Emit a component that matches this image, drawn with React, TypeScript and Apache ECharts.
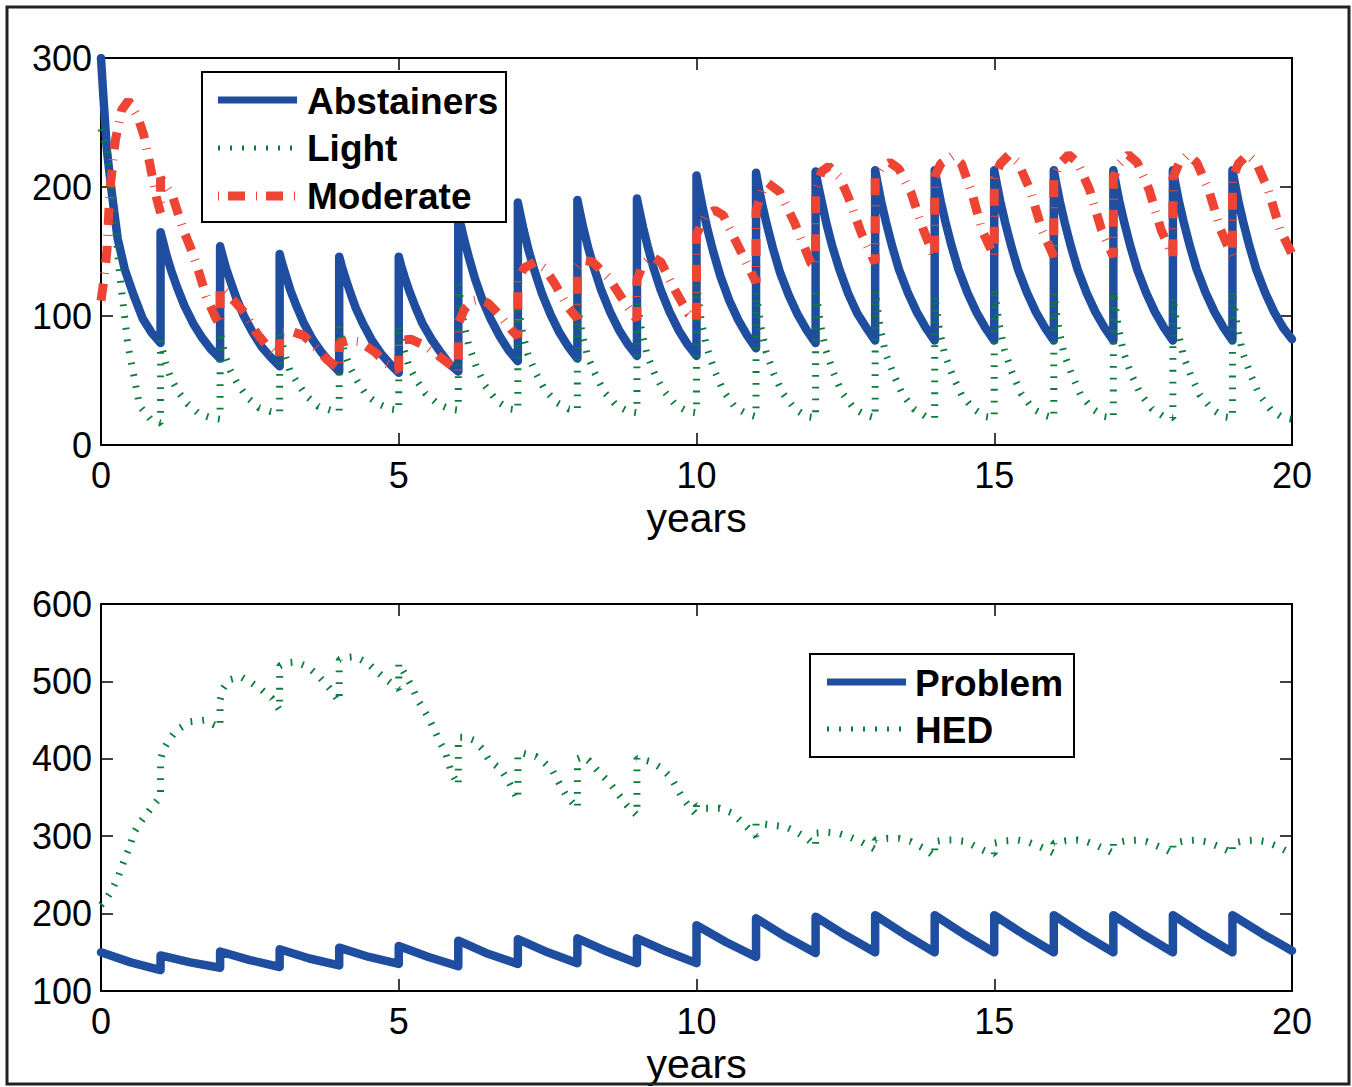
import React, { useEffect, useRef } from "react";
import * as echarts from "echarts";

// ---------- DATA ----------
// top panel: [years, persons]
const abstainers: number[][] = [
  [0, 300], [0.04, 270], [0.1, 228], [0.18, 196], [0.28, 160], [0.4, 136], [0.55, 116], [0.7, 98], [0.85, 87], [1, 79],
  [1, 165], [1.04, 158], [1.1, 147], [1.18, 135], [1.28, 122], [1.4, 108], [1.55, 94], [1.7, 83], [1.85, 74], [2, 67],
  [2, 154], [2.04, 147], [2.1, 137], [2.18, 126], [2.28, 113], [2.4, 100], [2.55, 87], [2.7, 76], [2.85, 68], [3, 61],
  [3, 148], [3.04, 141], [3.1, 132], [3.18, 120], [3.28, 108], [3.4, 95], [3.55, 82], [3.7, 72], [3.85, 64], [4, 57],
  [4, 146], [4.04, 139], [4.1, 130], [4.18, 119], [4.28, 106], [4.4, 94], [4.55, 81], [4.7, 71], [4.85, 63], [5, 56],
  [5, 146], [5.04, 139], [5.1, 130], [5.18, 119], [5.28, 107], [5.4, 94], [5.55, 82], [5.7, 72], [5.85, 63], [6, 57],
  [6, 180], [6.04, 171], [6.1, 159], [6.18, 145], [6.28, 129], [6.4, 113], [6.55, 97], [6.7, 84], [6.85, 73], [7, 65],
  [7, 188], [7.04, 179], [7.1, 166], [7.18, 151], [7.28, 135], [7.4, 118], [7.55, 101], [7.7, 87], [7.85, 76], [8, 67],
  [8, 190], [8.04, 181], [8.1, 168], [8.18, 153], [8.28, 137], [8.4, 120], [8.55, 103], [8.7, 89], [8.85, 78], [9, 69],
  [9, 191], [9.04, 182], [9.1, 169], [9.18, 154], [9.28, 137], [9.4, 120], [9.55, 103], [9.7, 89], [9.85, 78], [10, 69],
  [10, 209], [10.04, 199], [10.1, 185], [10.18, 168], [10.28, 150], [10.4, 131], [10.55, 112], [10.7, 97], [10.85, 85], [11, 75],
  [11, 211], [11.04, 201], [11.1, 187], [11.18, 171], [11.28, 153], [11.4, 134], [11.55, 116], [11.7, 101], [11.85, 89], [12, 79],
  [12, 212], [12.04, 202], [12.1, 189], [12.18, 172], [12.28, 154], [12.4, 136], [12.55, 117], [12.7, 102], [12.85, 91], [13, 81],
  [13, 213], [13.04, 203], [13.1, 189], [13.18, 173], [13.28, 155], [13.4, 136], [13.55, 118], [13.7, 103], [13.85, 91], [14, 81],
  [14, 213], [14.04, 203], [14.1, 189], [14.18, 173], [14.28, 155], [14.4, 136], [14.55, 118], [14.7, 103], [14.85, 91], [15, 81],
  [15, 213], [15.04, 203], [15.1, 189], [15.18, 173], [15.28, 155], [15.4, 136], [15.55, 118], [15.7, 103], [15.85, 91], [16, 81],
  [16, 213], [16.04, 203], [16.1, 189], [16.18, 173], [16.28, 155], [16.4, 136], [16.55, 118], [16.7, 103], [16.85, 91], [17, 81],
  [17, 213], [17.04, 203], [17.1, 189], [17.18, 173], [17.28, 155], [17.4, 136], [17.55, 118], [17.7, 103], [17.85, 91], [18, 81],
  [18, 213], [18.04, 203], [18.1, 189], [18.18, 173], [18.28, 155], [18.4, 136], [18.55, 118], [18.7, 103], [18.85, 91], [19, 81],
  [19, 213], [19.04, 203], [19.1, 189], [19.18, 173], [19.28, 155], [19.4, 136], [19.55, 118], [19.7, 103], [19.85, 91], [20, 82],
];

const light: number[][] = [
  [0, 245], [0.08, 232], [0.17, 205], [0.3, 138], [0.45, 78], [0.65, 30], [0.85, 19], [1, 17],
  [1, 81], [1.08, 64], [1.17, 52], [1.3, 41], [1.45, 32], [1.65, 24], [1.85, 21], [2, 20],
  [2, 88], [2.08, 70], [2.17, 58], [2.3, 47], [2.45, 37], [2.65, 29], [2.85, 26], [3, 25],
  [3, 88], [3.08, 71], [3.17, 58], [3.3, 48], [3.45, 38], [3.65, 30], [3.85, 27], [4, 26],
  [4, 92], [4.08, 74], [4.17, 61], [4.3, 50], [4.45, 39], [4.65, 32], [4.85, 28], [5, 27],
  [5, 93], [5.08, 75], [5.17, 61], [5.3, 50], [5.45, 40], [5.65, 32], [5.85, 28], [6, 27],
  [6, 125], [6.08, 98], [6.17, 78], [6.3, 61], [6.45, 46], [6.65, 34], [6.85, 28], [7, 27],
  [7, 110], [7.08, 87], [7.17, 70], [7.3, 56], [7.45, 43], [7.65, 33], [7.85, 28], [8, 27],
  [8, 110], [8.08, 86], [8.17, 69], [8.3, 55], [8.45, 41], [8.65, 31], [8.85, 26], [9, 25],
  [9, 112], [9.08, 88], [9.17, 70], [9.3, 55], [9.45, 42], [9.65, 31], [9.85, 26], [10, 25],
  [10, 125], [10.08, 96], [10.17, 76], [10.3, 58], [10.45, 42], [10.65, 29], [10.85, 24], [11, 22],
  [11, 119], [11.08, 92], [11.17, 72], [11.3, 55], [11.45, 40], [11.65, 28], [11.85, 22], [12, 21],
  [12, 122], [12.08, 94], [12.17, 74], [12.3, 56], [12.45, 40], [12.65, 28], [12.85, 23], [13, 21],
  [13, 120], [13.08, 92], [13.17, 72], [13.3, 56], [13.45, 40], [13.65, 28], [13.85, 22], [14, 21],
  [14, 116], [14.08, 89], [14.17, 70], [14.3, 54], [14.45, 39], [14.65, 28], [14.85, 22], [15, 21],
  [15, 122], [15.08, 94], [15.17, 74], [15.3, 56], [15.45, 40], [15.65, 28], [15.85, 23], [16, 21],
  [16, 118], [16.08, 91], [16.17, 71], [16.3, 55], [16.45, 39], [16.65, 28], [16.85, 22], [17, 21],
  [17, 119], [17.08, 92], [17.17, 72], [17.3, 55], [17.45, 40], [17.65, 28], [17.85, 22], [18, 21],
  [18, 115], [18.08, 89], [18.17, 70], [18.3, 54], [18.45, 39], [18.65, 28], [18.85, 22], [19, 21],
  [19, 120], [19.08, 92], [19.17, 72], [19.3, 55], [19.45, 39], [19.65, 27], [19.85, 21], [20, 20],
];

const moderate: number[][] = [
  [0, 112], [0.05, 128], [0.1, 151], [0.15, 198], [0.24, 236], [0.35, 260], [0.46, 267], [0.62, 254], [0.72, 240], [0.82, 218], [0.93, 192], [1, 180],
  [1, 207], [1.2, 193], [1.38, 167], [1.52, 151], [1.63, 136], [1.77, 115], [1.92, 99], [2, 93],
  [2, 122], [2.1, 118], [2.25, 111], [2.42, 102], [2.61, 87], [2.8, 76], [3, 68],
  [3, 87], [3.2, 88], [3.4, 85], [3.6, 76], [3.8, 66], [4, 59],
  [4, 79], [4.15, 81], [4.35, 80], [4.6, 72], [4.8, 63], [5, 58],
  [5, 81], [5.2, 82], [5.45, 77], [5.7, 68], [5.9, 61], [6, 57],
  [6, 94], [6.1, 105], [6.25, 112], [6.35, 113], [6.5, 110], [6.67, 102], [6.9, 89], [7, 84],
  [7, 128], [7.1, 137], [7.29, 142], [7.45, 137], [7.62, 125], [7.84, 107], [8, 98],
  [8, 138], [8.1, 143], [8.25, 142], [8.52, 130], [8.8, 110], [9, 97],
  [9, 128], [9.1, 140], [9.25, 146], [9.4, 142], [9.64, 120], [9.86, 102], [10, 97],
  [10, 163], [10.15, 178], [10.31, 182], [10.45, 178], [10.65, 159], [10.8, 145], [11, 126],
  [11, 182], [11.1, 197], [11.2, 203], [11.4, 196], [11.65, 172], [11.92, 141], [12, 138],
  [12, 198], [12.1, 212], [12.22, 216], [12.4, 208], [12.55, 192], [12.77, 164], [13, 141],
  [13, 208], [13.1, 215], [13.25, 219], [13.4, 214], [13.6, 196], [13.8, 168], [14, 145],
  [14, 208], [14.1, 218], [14.3, 224], [14.45, 218], [14.62, 196], [14.8, 166], [15, 146],
  [15, 207], [15.1, 218], [15.25, 225], [15.4, 219], [15.6, 198], [15.8, 167], [16, 146],
  [16, 207], [16.1, 218], [16.25, 225], [16.4, 219], [16.6, 198], [16.8, 167], [17, 146],
  [17, 207], [17.1, 218], [17.25, 225], [17.4, 219], [17.6, 198], [17.8, 167], [18, 146],
  [18, 207], [18.1, 218], [18.25, 225], [18.4, 219], [18.6, 198], [18.8, 167], [19, 146],
  [19, 207], [19.1, 218], [19.25, 225], [19.4, 219], [19.6, 198], [19.8, 167], [20, 148],
];

// bottom panel
const problem: number[][] = [
  [0, 150], [0.5, 137], [1, 127],
  [1, 146], [1.5, 137], [2, 130],
  [2, 151], [2.5, 140], [3, 131],
  [3, 154], [3.5, 142], [4, 133],
  [4, 156], [4.5, 144], [5, 135],
  [5, 158], [5.5, 144], [6, 132],
  [6, 165], [6.5, 148], [7, 135],
  [7, 167], [7.5, 150], [8, 136],
  [8, 168], [8.5, 151], [9, 136],
  [9, 168], [9.5, 151], [10, 136],
  [10, 185], [10.5, 163], [11, 144],
  [11, 194], [11.5, 170], [12, 149],
  [12, 196], [12.5, 172], [13, 150],
  [13, 198], [13.5, 173], [14, 150],
  [14, 198], [14.5, 173], [15, 150],
  [15, 198], [15.5, 173], [16, 150],
  [16, 198], [16.5, 173], [17, 150],
  [17, 198], [17.5, 173], [18, 150],
  [18, 198], [18.5, 173], [19, 150],
  [19, 198], [19.5, 174], [20, 152],
];

const hed: number[][] = [
  [0, 211], [0.08, 218], [0.18, 230], [0.28, 246], [0.35, 261], [0.41, 273], [0.48, 286], [0.55, 304], [0.65, 317], [0.75, 327], [0.88, 340], [1, 351],
  [1, 398], [1.04, 411], [1.14, 424], [1.27, 437], [1.5, 448], [1.74, 450], [1.9, 444], [2, 441],
  [2, 476], [2.05, 491], [2.15, 502], [2.35, 506], [2.53, 498], [2.7, 489], [2.87, 478], [3, 463],
  [3, 520], [3.1, 524], [3.27, 525], [3.47, 519], [3.64, 508], [3.84, 491], [4, 474],
  [4, 528], [4.1, 531], [4.27, 532], [4.47, 524], [4.63, 513], [4.8, 502], [5, 490],
  [5, 523], [5.1, 510], [5.22, 493], [5.32, 476], [5.5, 453], [5.6, 437], [5.7, 420], [5.78, 409], [5.89, 381], [6, 366],
  [6, 428], [6.12, 428], [6.26, 424], [6.4, 413], [6.52, 398], [6.72, 386], [6.85, 370], [7, 347],
  [7, 407], [7.1, 407], [7.3, 403], [7.42, 397], [7.58, 385], [7.71, 366], [7.81, 353], [8, 336],
  [8, 400], [8.1, 403], [8.2, 397], [8.37, 382], [8.53, 370], [8.7, 353], [8.83, 340], [9, 327],
  [9, 401], [9.24, 396], [9.41, 388], [9.57, 376], [9.77, 349], [9.9, 336], [10, 328],
  [10, 340], [10.16, 336], [10.39, 336], [10.6, 330], [10.75, 319], [11, 300],
  [11, 317], [11.3, 314], [11.5, 312], [11.67, 306], [11.86, 297], [12, 287],
  [12, 304], [12.2, 305], [12.37, 304], [12.57, 299], [12.73, 294], [13, 283],
  [13, 295], [13.2, 297], [13.4, 297], [13.6, 293], [13.8, 285], [14, 274],
  [14, 293], [14.17, 295], [14.33, 295], [14.53, 293], [14.7, 286], [14.87, 280], [15, 277],
  [15, 291], [15.2, 294], [15.4, 295], [15.55, 293], [15.72, 288], [15.9, 282], [16, 278],
  [16, 291], [16.2, 294], [16.4, 295], [16.55, 293], [16.72, 288], [16.9, 282], [17, 278],
  [17, 291], [17.2, 294], [17.4, 295], [17.55, 293], [17.72, 288], [17.9, 282], [18, 278],
  [18, 291], [18.2, 294], [18.4, 295], [18.55, 293], [18.72, 288], [18.9, 282], [19, 278],
  [19, 291], [19.2, 294], [19.4, 295], [19.55, 293], [19.72, 288], [19.9, 281], [20, 276],
];

const xRange = { min: 0, max: 20, interval: 5 };
const topYRange = { min: 0, max: 300, interval: 100 };
const bottomYRange = { min: 100, max: 600, interval: 100 };
const topLegendNames = ["Abstainers", "Light", "Moderate"];
const bottomLegendNames = ["Problem", "HED"];
const xAxisTitle = "years";

// ---------- STYLE ----------
const FONT = "'Liberation Sans', Arial, Helvetica, sans-serif";
const BLUE = "#1f4ea0";
const GREEN = "#0b7d3a";
const RED = "#ee4433";

export default function App() {
  const ref = useRef<HTMLDivElement>(null);

  useEffect(() => {
    if (!ref.current) return;
    const chart = echarts.init(ref.current, null, { renderer: "svg" });

    const axisBase = {
      type: "value",
      axisLine: { show: true, onZero: false, lineStyle: { color: "#000", width: 2 } },
      axisTick: { show: true, inside: true, length: 12, lineStyle: { color: "#000", width: 1.5 } },
      splitLine: { show: false },
    };
    const label = { color: "#000", fontSize: 36, fontFamily: FONT };

    const xMain = (gridIndex: number) => ({
      ...axisBase,
      ...xRange,
      gridIndex,
      position: "bottom",
      axisLabel: { ...label, margin: 12 },
      name: xAxisTitle,
      nameLocation: "middle",
      nameGap: 52,
      nameTextStyle: { color: "#000", fontSize: 41, fontFamily: FONT },
    });
    const xMirror = (gridIndex: number) => ({
      ...axisBase,
      ...xRange,
      gridIndex,
      position: "top",
      axisLabel: { show: false },
    });
    const yMain = (gridIndex: number, range: any) => ({
      ...axisBase,
      ...range,
      gridIndex,
      position: "left",
      axisLabel: { ...label, margin: 9 },
    });
    const yMirror = (gridIndex: number, range: any) => ({
      ...axisBase,
      ...range,
      gridIndex,
      position: "right",
      axisLabel: { show: false },
    });

    const lineSeries = (name: string, data: number[][], xi: number, yi: number, lineStyle: any, z: number) => ({
      name,
      type: "line",
      xAxisIndex: xi,
      yAxisIndex: yi,
      data,
      symbol: "none",
      showSymbol: false,
      z,
      lineStyle,
      itemStyle: { color: lineStyle.color },
    });

    const blueStyle = { color: BLUE, width: 8.5, cap: "round", join: "round" };
    const greenStyle = { color: GREEN, width: 7, type: [1.8, 10], cap: "butt" };
    const redStyle = { color: RED, width: 9, type: [17, 10, 1, 10], cap: "butt" };

    const legendText = (text: string, x: number, y: number) => ({
      type: "text",
      x,
      y,
      z: 101,
      style: {
        text,
        fill: "#000",
        fontSize: 37,
        fontWeight: "bold",
        fontFamily: FONT,
        verticalAlign: "middle",
        align: "left",
      },
    });
    const legendLine = (x1: number, x2: number, y: number, style: any) => ({
      type: "line",
      z: 101,
      shape: { x1, y1: y, x2, y2: y },
      style,
    });

    chart.setOption({
      animation: false,
      backgroundColor: "#ffffff",
      grid: [
        { left: 101, top: 58, width: 1191, height: 387 },
        { left: 101, top: 604, width: 1191, height: 387 },
      ],
      xAxis: [xMain(0), xMirror(0), xMain(1), xMirror(1)],
      yAxis: [yMain(0, topYRange), yMirror(0, topYRange), yMain(1, bottomYRange), yMirror(1, bottomYRange)],
      series: [
        lineSeries(topLegendNames[0], abstainers, 0, 0, blueStyle, 2),
        lineSeries(topLegendNames[1], light, 0, 0, greenStyle, 3),
        lineSeries(topLegendNames[2], moderate, 0, 0, redStyle, 4),
        lineSeries(bottomLegendNames[0], problem, 2, 2, blueStyle, 2),
        lineSeries(bottomLegendNames[1], hed, 2, 2, greenStyle, 3),
      ],
      graphic: [
        // figure frame
        {
          type: "rect",
          z: 100,
          shape: { x: 7, y: 7, width: 1342, height: 1077 },
          style: { fill: "none", stroke: "#222", lineWidth: 3 },
        },
        // top legend
        {
          type: "rect",
          z: 100,
          shape: { x: 202, y: 72, width: 304, height: 150 },
          style: { fill: "#fff", stroke: "#000", lineWidth: 2 },
        },
        legendLine(218, 297, 100, { stroke: BLUE, lineWidth: 7 }),
        legendLine(218, 298, 148, { stroke: GREEN, lineWidth: 5, lineDash: [2, 10] }),
        legendLine(218, 298, 196, { stroke: RED, lineWidth: 9, lineDash: [1, 9, 17, 11] }),
        legendText(topLegendNames[0], 307, 101),
        legendText(topLegendNames[1], 307, 148),
        legendText(topLegendNames[2], 307, 196),
        // bottom legend
        {
          type: "rect",
          z: 100,
          shape: { x: 810, y: 654, width: 264, height: 103 },
          style: { fill: "#fff", stroke: "#000", lineWidth: 2 },
        },
        legendLine(827, 906, 682, { stroke: BLUE, lineWidth: 7 }),
        legendLine(827, 906, 729, { stroke: GREEN, lineWidth: 5, lineDash: [2, 10] }),
        legendText(bottomLegendNames[0], 915, 683),
        legendText(bottomLegendNames[1], 915, 730),
      ],
    });

    return () => chart.dispose();
  }, []);

  return (
    <div
      ref={ref}
      style={{ position: "fixed", left: 0, top: 0, width: 1352, height: 1087, background: "#fff" }}
    />
  );
}
